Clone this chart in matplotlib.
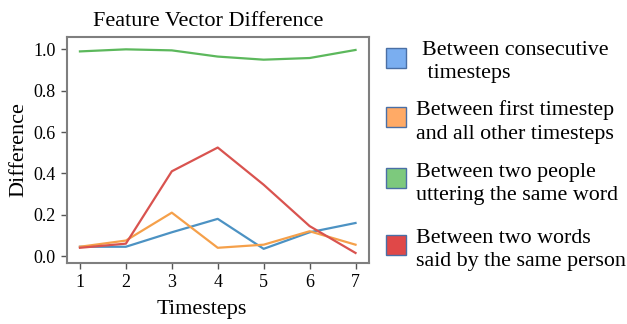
import matplotlib.pyplot as plt
from matplotlib.patches import Rectangle

# data
timesteps = [1, 2, 3, 4, 5, 6, 7]
consecutive = [0.045, 0.045, 0.115, 0.18, 0.035, 0.115, 0.16]
first_vs_all = [0.045, 0.075, 0.21, 0.04, 0.055, 0.12, 0.055]
two_people = [0.99, 1.0, 0.995, 0.965, 0.95, 0.958, 0.997]
two_words = [0.04, 0.06, 0.41, 0.525, 0.345, 0.145, 0.015]

line_colors = ['#4c92c3', '#f5a04a', '#5cb85c', '#d9534f']
patch_colors = ['#7aaef0', '#ffaa66', '#7dc97d', '#e04848']
labels = ['Between consecutive\n timesteps',
          'Between first timestep\nand all other timesteps',
          'Between two people\nuttering the same word',
          'Between two words\nsaid by the same person']

plt.rcParams['font.family'] = ['Liberation Serif', 'DejaVu Serif']

fig = plt.figure(figsize=(6.27, 3.24), dpi=100)
ax = fig.add_axes([0.107, 0.188, 0.482, 0.698])

series = [consecutive, first_vs_all, two_people, two_words]
for vals, c in zip(series, line_colors):
    ax.plot(timesteps, vals, color=c, linewidth=1.6)

ax.set_xlim(0.72, 7.3)
ax.set_ylim(-0.034, 1.06)
ax.set_xticks(timesteps)
ax.set_yticks([0.0, 0.2, 0.4, 0.6, 0.8, 1.0])
ax.set_yticklabels(['0.0', '0.2', '0.4', '0.6', '0.8', '1.0'])
ax.tick_params(labelsize=13, color='#555555', length=4, width=1, pad=4)
for s in ax.spines.values():
    s.set_color('#7f7f7f')
    s.set_linewidth(1.5)

ax.set_title('Feature Vector Difference', fontsize=16, x=0.467, pad=8)
ax.set_xlabel('Timesteps', fontsize=16)
ax.xaxis.set_label_coords(0.444, -0.165)
ax.set_ylabel('Difference', fontsize=16, labelpad=4)

# hand-placed legend on the right
W, H = 627, 324
square_y = [58, 117, 178, 245]
text_y = [62, 122, 184, 250]
text_x = [422, 416, 416, 416]
for i in range(4):
    fig.add_artist(Rectangle((386 / W, 1 - (square_y[i] + 10) / H), 20 / W, 20 / H,
                             transform=fig.transFigure, facecolor=patch_colors[i],
                             edgecolor='#4a6fa5', linewidth=1))
    fig.text(text_x[i] / W, 1 - text_y[i] / H, labels[i], fontsize=15.8,
             va='center', ha='left', linespacing=1.3)

fig.savefig('out.png', dpi=100)
